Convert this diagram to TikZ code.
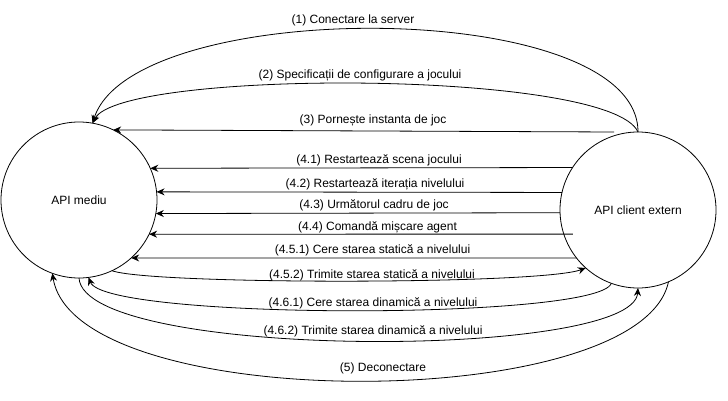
\documentclass[tikz,border=0pt]{standalone}
\usepackage{fontspec}
\setmainfont{Liberation Sans}
\usetikzlibrary{arrows.meta}

\tikzset{
	actor/.style={draw, circle, minimum size=156pt, inner sep=0pt, outer sep=0pt, line width=0.8pt, font=\fontsize{12}{14}\selectfont},
	msg/.style={line width=0.8pt, -{Stealth[length=8pt,width=7pt]}},
	lbl/.style={inner sep=0pt, font=\fontsize{12}{14}\selectfont}
}

\begin{document}
\begin{tikzpicture}[x=1pt, y=-1pt]
	\useasboundingbox (0,0) rectangle (728,401);

	\node[actor] (mediu) at (79,200) {API mediu};
	\node[actor] (client) at (638,210) {API client extern};

	\draw[msg] (client.north) .. controls +(0,-136) and +(40,-127) .. (mediu.80);
	\draw[msg] (client.north) .. controls +(-28,-63) and +(27.5,-54) .. (mediu.80);
	\draw[msg] ([xshift=-24pt]client.north) -- (mediu.64);

	\draw[msg] (client.147) -- (mediu.24);
	\draw[msg] (client.167) -- (mediu.6);
	\draw[msg] (client.182) -- (mediu.-10);
	\draw[msg, shorten <=-9pt] (client.198) -- (mediu.-26);
	\draw[msg] (client.218) -- (mediu.-48);

	\draw[msg] (mediu.-65) .. controls +(38,14) and +(-46,17) .. (client.228);
	\draw[msg] (client.250) .. controls +(-13,37) and +(16.5,42.6) .. (mediu.-83);
	\draw[msg] (mediu.south) .. controls +(5,82) and +(-5,72) .. (client.south);
	\draw[msg] (client.-67) .. controls +(-28,133) and +(23,142) .. (mediu.-110);

	\node[lbl] (l1) at (353,20) {(1) Conectare la server};
	\node[lbl] (l2) at (360,75) {(2) Specificații de configurare a jocului};
	\node[lbl] (l3) at (373,120) {(3) Pornește instanta de joc};
	\node[lbl] (l41) at (379,160) {(4.1) Restartează scena jocului};
	\node[lbl] (l42) at (375,184) {(4.2) Restartează iterația nivelului};
	\node[lbl] (l43) at (374,205) {(4.3) Următorul cadru de joc};
	\node[lbl] (l44) at (377.5,227) {(4.4) Comandă mișcare agent};
	\node[lbl] (l451) at (372.5,250) {(4.5.1) Cere starea statică a nivelului};
	\node[lbl] (l452) at (372,275) {(4.5.2) Trimite starea statică a nivelului};
	\node[lbl] (l461) at (373,303) {(4.6.1) Cere starea dinamică a nivelului};
	\node[lbl] (l462) at (373,331) {(4.6.2) Trimite starea dinamică a nivelului};
	\node[lbl] (l5) at (383,368) {(5) Deconectare};
\end{tikzpicture}
\end{document}
